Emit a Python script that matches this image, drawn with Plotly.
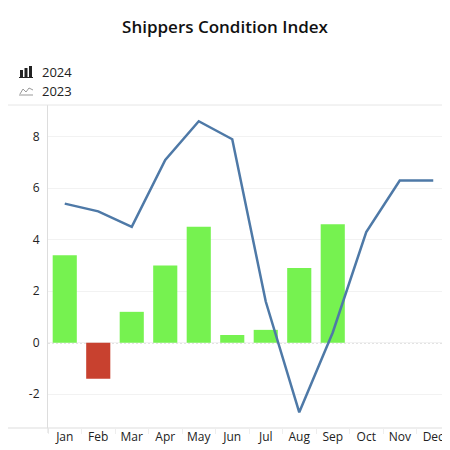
import plotly.graph_objects as go

months = ["Jan", "Feb", "Mar", "Apr", "May", "Jun", "Jul", "Aug", "Sep", "Oct", "Nov", "Dec"]
values_2024 = [3.4, -1.4, 1.2, 3.0, 4.5, 0.3, 0.5, 2.9, 4.6, None, None, None]
values_2023 = [5.4, 5.1, 4.5, 7.1, 8.6, 7.9, 1.6, -2.7, 0.4, 4.3, 6.3, 6.3]
y_ticks = [-2, 0, 2, 4, 6, 8]
y_tick_labels = ["-2", "0", "2", "4", "6", "8"]

GREEN = "#76f250"
RED = "#c8412f"
BLUE = "#4e79a7"
FONT = "Open Sans"

# the page body adds an 8px margin, so the figure is drawn 8px smaller
OFF = 8
W, H = 450 - OFF, 450 - OFF
L, R, T, B = 48 - OFF, 0, 105 - OFF, 22


# convert a pixel position of the 450x450 window to paper coords
def px(x):
    return (x - OFF - L) / (W - L - R)


def py(y):
    return (H - B - (y - OFF)) / (H - T - B)


bar_colors = [RED if (v is not None and v < 0) else GREEN for v in values_2024]

fig = go.Figure()
fig.add_trace(go.Bar(
    x=months, y=values_2024, name="2024",
    marker=dict(color=bar_colors, line=dict(width=0)),
    showlegend=False,
))
fig.add_trace(go.Scatter(
    x=months, y=values_2023, name="2023", mode="lines",
    line=dict(color=BLUE, width=2.5),
    showlegend=False,
))

shapes = []
# zero line (between gridlines and traces)
shapes.append(dict(type="line", xref="paper", yref="y", x0=0, x1=1, y0=0, y1=0,
                   line=dict(color="#888888", width=1, dash="2px,2px"), layer="between"))
# top and bottom borders reaching across the label column
shapes.append(dict(type="line", xref="paper", yref="paper", x0=px(8), x1=px(448), y0=1, y1=1,
                   line=dict(color="#e6e6e6", width=1)))
shapes.append(dict(type="line", xref="paper", yref="paper", x0=px(448), x1=px(448), y0=0, y1=1,
                   line=dict(color="#e6e6e6", width=1)))
shapes.append(dict(type="line", xref="paper", yref="paper", x0=px(8), x1=1, y0=0, y1=0,
                   line=dict(color="#dddddd", width=1)))
shapes.append(dict(type="line", xref="paper", yref="paper", x0=0, x1=0, y0=py(433), y1=0,
                   line=dict(color="#dddddd", width=1)))

# legend icons: bar glyph
for x0, top in [(20, 70), (24.5, 68), (29, 66)]:
    shapes.append(dict(type="rect", xref="paper", yref="paper",
                       x0=px(x0), x1=px(x0 + 3), y0=py(77), y1=py(top),
                       fillcolor="#222222", line=dict(width=0)))
shapes.append(dict(type="line", xref="paper", yref="paper", x0=px(19), x1=px(33), y0=py(77.5), y1=py(77.5),
                   line=dict(color="#222222", width=1)))
# line glyph
shapes.append(dict(type="path", xref="paper", yref="paper",
                   path="M {} {} L {} {} L {} {} L {} {} L {} {}".format(
                       px(20), py(94), px(23), py(89), px(26), py(92), px(29), py(88), px(33), py(90)),
                   line=dict(color="#999999", width=1)))
shapes.append(dict(type="line", xref="paper", yref="paper", x0=px(19), x1=px(33), y0=py(95), y1=py(95),
                   line=dict(color="#999999", width=1)))

annotations = [
    dict(text="2024", xref="paper", yref="paper", x=px(40), y=py(72), xanchor="left", yanchor="middle",
         showarrow=False, font=dict(family=FONT, size=13, color="#222222")),
    dict(text="2023", xref="paper", yref="paper", x=px(40), y=py(91), xanchor="left", yanchor="middle",
         showarrow=False, font=dict(family=FONT, size=13, color="#222222")),
]

fig.update_layout(
    width=W, height=H,
    margin=dict(l=L, r=R, t=T, b=B, autoexpand=False),
    paper_bgcolor="white", plot_bgcolor="white",
    title=dict(text="Shippers Condition Index", x=(225 - OFF) / W, xref="container", xanchor="center",
               y=1 - (27 - OFF) / H, yref="container", yanchor="middle",
               font=dict(family=FONT, size=17, color="#111111", weight=600)),
    bargap=0.28,
    shapes=shapes,
    annotations=annotations,
    font=dict(family=FONT, size=12, color="#333333"),
)
fig.update_xaxes(
    type="category", categoryorder="array", categoryarray=months,
    showgrid=False, showline=False, zeroline=False,
    ticks="outside", tickson="boundaries", ticklen=5, tickcolor="#eeeeee",
    tickangle=0, automargin=False,
    tickfont=dict(family=FONT, size=12, color="#222222"),
    fixedrange=True,
)
fig.update_yaxes(
    range=[-3.31, 9.23], tickvals=y_ticks, ticktext=y_tick_labels,
    showgrid=True, gridcolor="#f2f2f2", gridwidth=1,
    zeroline=False, showline=True, linecolor="#dddddd", linewidth=1,
    ticks="", ticklabelstandoff=5, automargin=False,
    tickfont=dict(family=FONT, size=12, color="#222222"),
    fixedrange=True,
)

fig.write_html("out.html")
